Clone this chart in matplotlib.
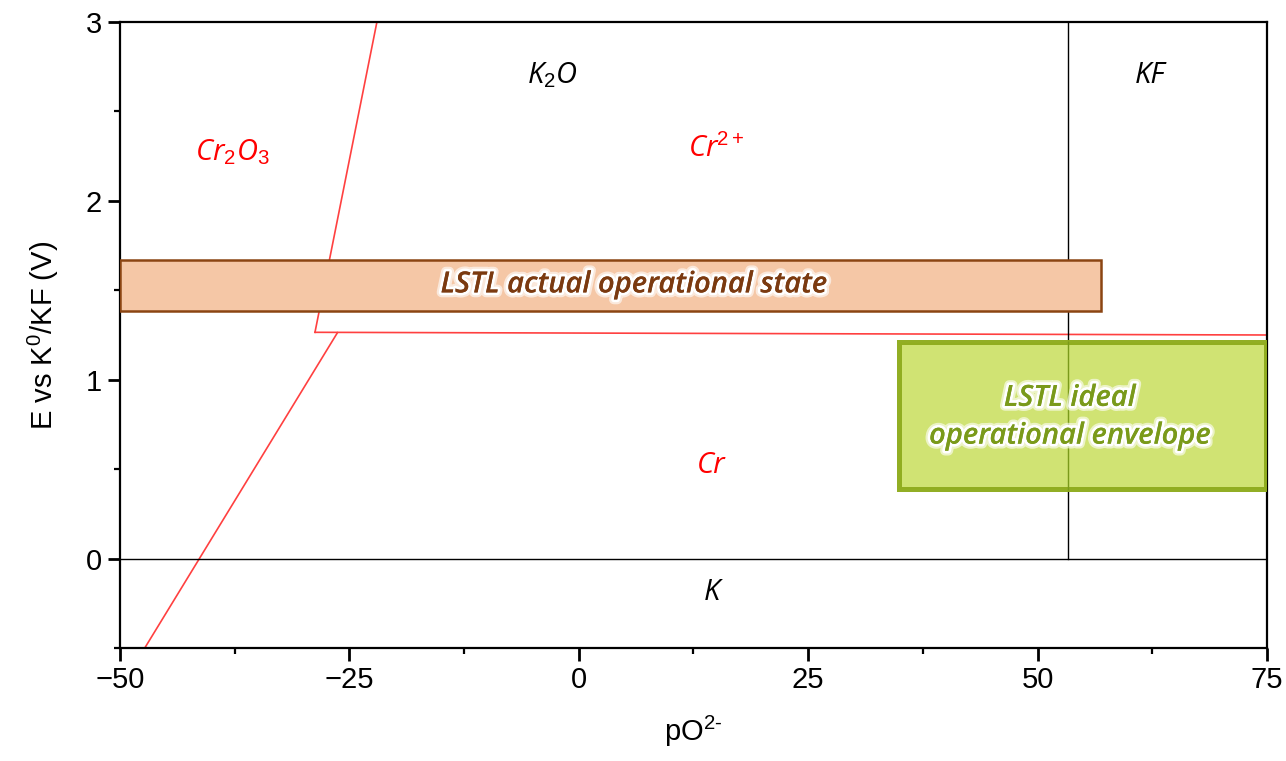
import matplotlib
matplotlib.use("Agg")
import matplotlib.pyplot as plt
import matplotlib.patheffects as pe
from matplotlib.patches import Rectangle
from matplotlib.ticker import MultipleLocator

plt.rcParams['font.family'] = ['Liberation Sans', 'DejaVu Sans']
plt.rcParams['mathtext.fontset'] = 'custom'
plt.rcParams['mathtext.rm'] = 'Liberation Sans'
plt.rcParams['mathtext.it'] = 'Open Sans:italic'

# phase boundaries (pO2-, E)
cr2o3_low_x = [-47.3, -26.3]
cr2o3_low_y = [-0.5, 1.263]
cr2o3_up_x = [-28.75, -22.0]
cr2o3_up_y = [1.265, 3.0]
cr_x = [-28.75, 75.0]
cr_y = [1.265, 1.25]
k_line_y = 0.0
kf_line_x = 53.3

# operating windows: (x0, x1, y0, y1)
actual_box = (-50.0, 56.9, 1.385, 1.670)
ideal_box = (34.9, 74.9, 0.391, 1.212)

# region labels
black_labels = [("K$_\\mathit{2}$O", -2.9, 2.70), ("KF", 62.2, 2.70), ("K", 14.5, -0.19)]
red_labels = [("Cr$_\\mathit{2}$O$_\\mathit{3}$", -37.8, 2.27),
              ("Cr$^{\\mathit{2+}}$", 15.0, 2.29), ("Cr", 14.4, 0.52)]

fig = plt.figure(figsize=(12.86, 7.61), dpi=100)
ax = fig.add_axes([0.0933, 0.1485, 0.8919, 0.8226])

ax.plot(cr2o3_low_x, cr2o3_low_y, color='#ff4040', lw=1.2)
ax.plot(cr2o3_up_x, cr2o3_up_y, color='#ff4040', lw=1.2)
ax.plot(cr_x, cr_y, color='#ff4040', lw=1.2)
ax.axhline(k_line_y, color='black', lw=1.0)
ax.plot([kf_line_x, kf_line_x], [0, 3], color='black', lw=1.0)

x0, x1, y0, y1 = actual_box
ax.add_patch(Rectangle((x0, y0), x1 - x0, y1 - y0, facecolor='#f5c7a6',
                       edgecolor='#8b4513', lw=1.8, zorder=3))
x0, x1, y0, y1 = ideal_box
ax.add_patch(Rectangle((x0, y0), x1 - x0, y1 - y0, facecolor='#cfe36e',
                       edgecolor='#8fac1e', lw=3.6, alpha=0.97, zorder=3))
ax.plot([kf_line_x, kf_line_x], [ideal_box[2], ideal_box[3]],
        color='#7a9a1a', lw=1.0, zorder=4)

glow = [pe.withStroke(linewidth=7, foreground='white', alpha=0.6),
        pe.withStroke(linewidth=4, foreground='white'), pe.Normal()]
ax.text(6.0, 1.53, "LSTL actual operational state", color='#7b3a10',
        family='Open Sans', style='italic', weight='semibold', fontsize=21,
        ha='center', va='center', path_effects=glow, zorder=5)
ax.text(53.5, 0.79, "LSTL ideal\noperational envelope", color='#7a9a1a',
        family='Open Sans', style='italic', weight='semibold', fontsize=21,
        ha='center', va='center', linespacing=1.4, path_effects=glow, zorder=5)

for txt, x, y in black_labels:
    ax.text(x, y, txt, color='black', family='Open Sans', style='italic',
            fontsize=21, ha='center', va='center')
for txt, x, y in red_labels:
    ax.text(x, y, txt, color='red', family='Open Sans', style='italic',
            fontsize=21, ha='center', va='center')

ax.set_xlim(-50, 75)
ax.set_ylim(-0.5, 3)
ax.xaxis.set_major_locator(MultipleLocator(25))
ax.xaxis.set_minor_locator(MultipleLocator(12.5))
ax.yaxis.set_major_locator(MultipleLocator(1))
ax.yaxis.set_minor_locator(MultipleLocator(0.5))
ax.tick_params(which='major', direction='out', length=9, width=2, labelsize=21, pad=4)
ax.tick_params(which='minor', direction='out', length=4, width=1.6)
for s in ax.spines.values():
    s.set_linewidth(1.6)

ax.set_xlabel("pO$^{2\\text{-}}$", fontsize=21, labelpad=14)
ax.set_ylabel("E vs K$^0$/KF (V)", fontsize=21, labelpad=18)

fig.savefig("out.png", dpi=100)
